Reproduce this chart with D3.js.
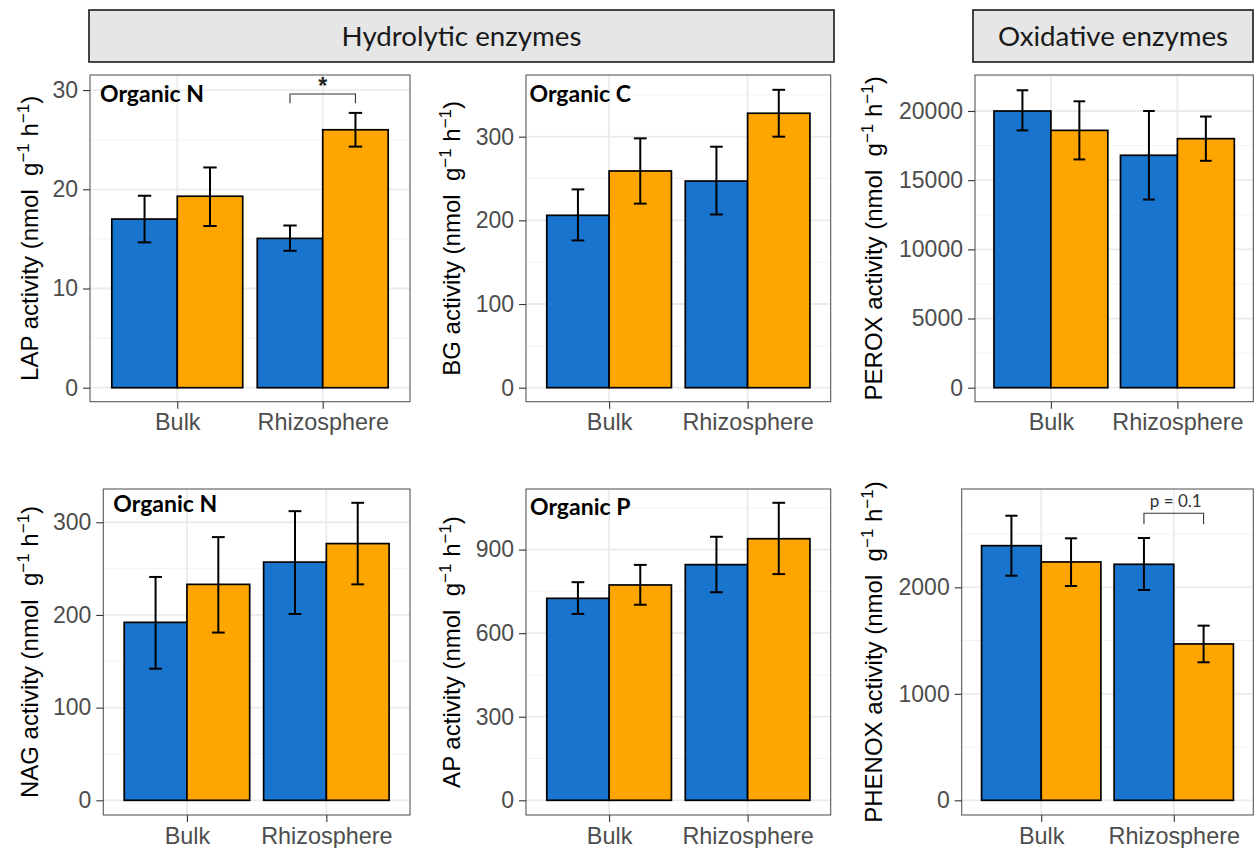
<!DOCTYPE html>
<html>
<head>
<meta charset="utf-8">
<script src="https://cdn.jsdelivr.net/npm/d3@7"></script>
<style>
  html, body { margin: 0; padding: 0; background: #fff; }
  svg text { white-space: pre; }
</style>
</head>
<body>
<svg id="chart" width="1256" height="848"></svg>
<script>
// ---------------- DATA ----------------
const categories = ["Bulk", "Rhizosphere"];
const series = ["T1", "T2"];            // blue, orange
const facetLabels = ["Hydrolytic enzymes", "Oxidative enzymes"];

// values per [Bulk-T1, Bulk-T2, Rhizosphere-T1, Rhizosphere-T2]
const lapMean = [17.0, 19.3, 15.05, 26.0];
const lapLo   = [14.65, 16.3, 13.8, 24.3];
const lapHi   = [19.35, 22.2, 16.35, 27.7];
const lapTicks = [0, 10, 20, 30];

const bgMean = [206, 259, 247, 328];
const bgLo   = [176, 220, 207, 300];
const bgHi   = [237, 298, 288, 356];
const bgTicks = [0, 100, 200, 300];

const peroxMean = [20000, 18600, 16800, 18000];
const peroxLo   = [18600, 16500, 13600, 16400];
const peroxHi   = [21500, 20700, 20000, 19600];
const peroxTicks = [0, 5000, 10000, 15000, 20000];

const nagMean = [192, 233, 257, 277];
const nagLo   = [142, 181, 201, 233];
const nagHi   = [241, 284, 312, 321];
const nagTicks = [0, 100, 200, 300];

const apMean = [725, 773, 846, 939];
const apLo   = [669, 702, 747, 812];
const apHi   = [783, 845, 946, 1068];
const apTicks = [0, 300, 600, 900];

const phenoxMean = [2391, 2238, 2216, 1468];
const phenoxLo   = [2109, 2012, 1975, 1296];
const phenoxHi   = [2672, 2460, 2463, 1640];
const phenoxTicks = [0, 1000, 2000];

// significance annotations: [category index, label, bracket top, bracket leg bottom, label y]
const lapSignif = [1, "*", 29.6, 28.67, 30.6];
const phenoxSignif = [1, "p = 0.1", 2695, 2592, 2751];

// ---------------- LAYOUT ----------------
const svg = d3.select("#chart");
const blue = "#1874CD", orange = "#FFA500";
const tickFont = "'Liberation Sans', Arial, sans-serif";
const labelFont = "Lato, 'Open Sans', sans-serif";

const panels = [
  {enzyme:"LAP", tag:"Organic N", mean:lapMean, lo:lapLo, hi:lapHi, ticks:lapTicks,
   domain:[-1.41, 31.52], box:[90, 410, 75, 401.7], titleX:37.5, tagPos:[100, 101.5], signif:lapSignif, sigFont:"star"},
  {enzyme:"BG", tag:"Organic C", mean:bgMean, lo:bgLo, hi:bgHi, ticks:bgTicks,
   domain:[-16.73, 373.7], box:[526, 830.7, 75, 401.7], titleX:460, tagPos:[529.5, 101.7]},
  {enzyme:"PEROX", tag:null, mean:peroxMean, lo:peroxLo, hi:peroxHi, ticks:peroxTicks,
   domain:[-1012, 22602], box:[975, 1253.3, 75, 401.7], titleX:881.7},
  {enzyme:"NAG", tag:"Organic N", mean:nagMean, lo:nagLo, hi:nagHi, ticks:nagTicks,
   domain:[-15.86, 335.9], box:[103.3, 410, 489, 815], titleX:37.5, tagPos:[113.3, 511.7]},
  {enzyme:"AP", tag:"Organic P", mean:apMean, lo:apLo, hi:apHi, ticks:apTicks,
   domain:[-52.8, 1117.5], box:[526, 830.7, 489, 815], titleX:459.5, tagPos:[530, 515]},
  {enzyme:"PHENOX", tag:null, mean:phenoxMean, lo:phenoxLo, hi:phenoxHi, ticks:phenoxTicks,
   domain:[-138, 2923], box:[961.7, 1253.3, 489, 815], titleX:881.7, signif:phenoxSignif, sigFont:"text"}
];

// ---------------- STRIP HEADERS ----------------
const strips = [[89, 834, 10, 62], [973, 1253, 10, 62]];
strips.forEach((s, i) => {
  svg.append("rect").attr("x", s[0]).attr("y", s[2]).attr("width", s[1]-s[0]).attr("height", s[3]-s[2])
    .attr("fill", "#E6E6E6").attr("stroke", "#1a1a1a").attr("stroke-width", 1.6);
  svg.append("text").attr("x", (s[0]+s[1])/2).attr("y", (s[2]+s[3])/2 + 9.5)
    .attr("text-anchor", "middle").attr("font-family", labelFont).attr("font-size", 27.7)
    .attr("fill", "#1a1a1a").text(facetLabels[i]);
});

// ---------------- PANELS ----------------
panels.forEach(p => {
  const [x0, x1, y0, y1] = p.box;
  const g = svg.append("g");
  const x = d3.scaleLinear().domain([0.4, categories.length + 0.6]).range([x0, x1]);
  const y = d3.scaleLinear().domain(p.domain).range([y1, y0]);
  const step = p.ticks[1] - p.ticks[0];

  // minor breaks
  const ext = [p.ticks[0] - step].concat(p.ticks, [p.ticks[p.ticks.length-1] + step]);
  const minor = [];
  for (let i = 0; i < ext.length - 1; i++) {
    const m = (ext[i] + ext[i+1]) / 2;
    if (m > p.domain[0] && m < p.domain[1]) minor.push(m);
  }

  // background grid
  g.selectAll(".minor").data(minor).join("line")
    .attr("x1", x0).attr("x2", x1).attr("y1", d => y(d)).attr("y2", d => y(d))
    .attr("stroke", "#F2F2F2").attr("stroke-width", 0.9);
  g.selectAll(".major").data(p.ticks).join("line")
    .attr("x1", x0).attr("x2", x1).attr("y1", d => y(d)).attr("y2", d => y(d))
    .attr("stroke", "#EBEBEB").attr("stroke-width", 1.8);
  g.selectAll(".vmajor").data(categories).join("line")
    .attr("x1", (d, i) => x(i+1)).attr("x2", (d, i) => x(i+1)).attr("y1", y0).attr("y2", y1)
    .attr("stroke", "#EBEBEB").attr("stroke-width", 1.8);

  // bars
  const rows = [];
  categories.forEach((c, ci) => series.forEach((s, si) => {
    const k = ci * series.length + si;
    rows.push({ci, si, mean: p.mean[k], lo: p.lo[k], hi: p.hi[k]});
  }));
  const barW = 0.45;
  const cx = d => d.ci + 1 + (d.si === 0 ? -barW/2 : barW/2);

  g.selectAll(".bar").data(rows).join("rect")
    .attr("x", d => x(cx(d) - barW/2)).attr("width", d => x(cx(d) + barW/2) - x(cx(d) - barW/2))
    .attr("y", d => y(d.mean)).attr("height", d => y(0) - y(d.mean))
    .attr("fill", d => d.si === 0 ? blue : orange)
    .attr("stroke", "#000").attr("stroke-width", 1.7);

  // error bars
  const capW = 0.046;
  const eb = g.selectAll(".eb").data(rows).join("g").attr("stroke", "#000").attr("stroke-width", 2);
  eb.append("line").attr("x1", d => x(cx(d))).attr("x2", d => x(cx(d)))
    .attr("y1", d => y(d.lo)).attr("y2", d => y(d.hi));
  eb.append("line").attr("x1", d => x(cx(d) - capW)).attr("x2", d => x(cx(d) + capW))
    .attr("y1", d => y(d.lo)).attr("y2", d => y(d.lo));
  eb.append("line").attr("x1", d => x(cx(d) - capW)).attr("x2", d => x(cx(d) + capW))
    .attr("y1", d => y(d.hi)).attr("y2", d => y(d.hi));

  // significance bracket
  if (p.signif) {
    const [ci, lab, top, leg, ly] = p.signif;
    const xa = x(ci + 1 - barW/2), xb = x(ci + 1 + barW/2);
    g.append("path")
      .attr("d", `M${xa},${y(leg)}L${xa},${y(top)}L${xb},${y(top)}L${xb},${y(leg)}`)
      .attr("fill", "none").attr("stroke", "#333").attr("stroke-width", 1.1);
    if (p.sigFont === "star") {
      g.append("text").attr("x", (xa+xb)/2).attr("y", y(ly) + 10).attr("text-anchor", "middle")
        .attr("font-family", tickFont).attr("font-weight", "bold").attr("font-size", 23).attr("fill", "#222").text(lab);
    } else {
      g.append("text").attr("x", (xa+xb)/2 + 2).attr("y", y(ly)).attr("text-anchor", "middle")
        .attr("font-family", labelFont).attr("font-size", 17).attr("fill", "#333").text(lab);
    }
  }

  // panel border
  g.append("rect").attr("x", x0).attr("y", y0).attr("width", x1 - x0).attr("height", y1 - y0)
    .attr("fill", "none").attr("stroke", "#5a5a5a").attr("stroke-width", 1.1);

  // y axis
  const yAxis = d3.axisLeft(y).tickValues(p.ticks).tickSize(7).tickPadding(5).tickFormat(d3.format("d"));
  const ya = g.append("g").attr("transform", `translate(${x0},0)`).call(yAxis);
  ya.select(".domain").remove();
  ya.selectAll(".tick line").attr("stroke", "#333").attr("stroke-width", 1.1);
  ya.selectAll(".tick text").attr("font-family", tickFont).attr("font-size", 23).attr("fill", "#4D4D4D");

  // x axis
  const xAxis = d3.axisBottom(x).tickValues(categories.map((c, i) => i + 1)).tickSize(7).tickPadding(5)
    .tickFormat(d => categories[d - 1]);
  const xa = g.append("g").attr("transform", `translate(0,${y1})`).call(xAxis);
  xa.select(".domain").remove();
  xa.selectAll(".tick line").attr("stroke", "#333").attr("stroke-width", 1.1);
  xa.selectAll(".tick text").attr("font-family", tickFont).attr("font-size", 23.4).attr("fill", "#4D4D4D");

  // y title
  const t = g.append("text")
    .attr("transform", `translate(${p.titleX},${(y0 + y1) / 2}) rotate(-90)`)
    .attr("text-anchor", "middle").attr("font-family", tickFont).attr("font-size", 24).attr("fill", "#000");
  t.append("tspan").text(p.enzyme + " activity (nmol  g");
  t.append("tspan").attr("dy", -9).attr("font-size", 17).text("\u22121");
  t.append("tspan").attr("dy", 9).text(" h");
  t.append("tspan").attr("dy", -9).attr("font-size", 17).text("\u22121");
  t.append("tspan").attr("dy", 9).text(")");

  // category tag
  if (p.tag) {
    g.append("text").attr("x", p.tagPos[0]).attr("y", p.tagPos[1])
      .attr("font-family", labelFont).attr("font-weight", "bold").attr("font-size", 23)
      .attr("fill", "#000").text(p.tag);
  }
});
</script>
</body>
</html>
